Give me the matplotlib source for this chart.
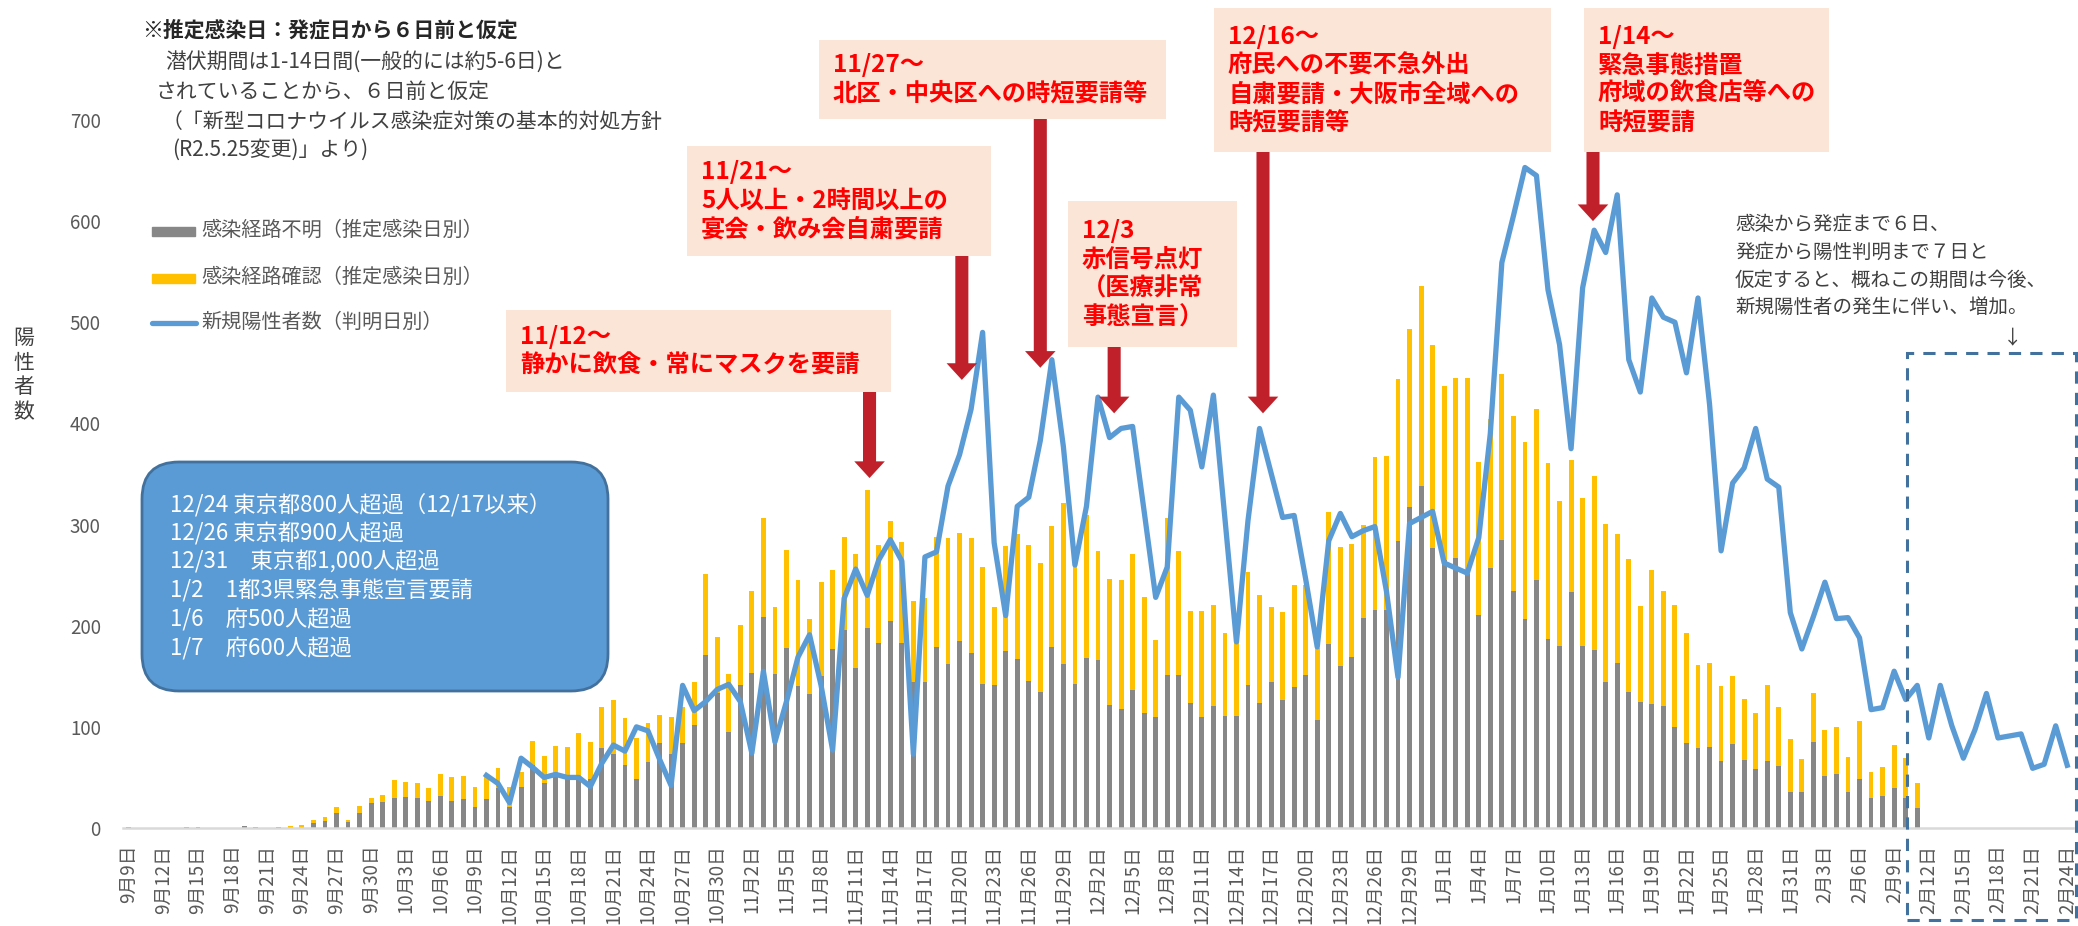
import numpy as np
import pandas as pd
import matplotlib
matplotlib.use("Agg")
import matplotlib.pyplot as plt
import matplotlib.patches as mpatches
from matplotlib.transforms import IdentityTransform

plt.rcParams['font.family'] = ['Noto Sans CJK JP', 'DejaVu Sans']

# days from 2020/9/9 to 2021/2/24
dates = pd.date_range("2020-09-09", "2021-02-24")
tick_labels = ["{0}月{1}日".format(d.month, d.day) for d in dates]

# 感染経路不明 (estimated infection date), 9/9 .. 2/11
unknown = [1, 0, 0, 0, 0, 1, 1, 0, 0, 0, 2, 1, 0, 1, 0, 0, 5, 7, 15, 6,
           15, 25, 26, 30, 31, 30, 27, 32, 27, 29, 21, 29, 40, 21, 41, 62, 44, 53, 48, 50,
           48, 79, 73, 62, 48, 65, 84, 73, 84, 102, 171, 133, 95, 141, 153, 209, 152, 178, 140, 132,
           150, 177, 196, 158, 198, 183, 205, 183, 144, 144, 179, 162, 185, 173, 142, 141, 175, 167, 145, 134,
           179, 162, 142, 168, 166, 122, 118, 136, 114, 110, 151, 151, 124, 110, 121, 111, 111, 141, 124, 144,
           127, 139, 151, 107, 182, 160, 169, 208, 216, 216, 284, 317, 338, 277, 265, 267, 251, 211, 257, 285,
           234, 207, 245, 187, 180, 233, 180, 176, 144, 163, 134, 125, 123, 121, 100, 84, 79, 80, 66, 83,
           67, 58, 66, 61, 36, 36, 85, 51, 53, 36, 48, 30, 32, 40, 30, 20]

# 感染経路確認 (estimated infection date)
confirmed = [0, 0, 0, 0, 0, 0, 0, 0, 0, 0, 0, 0, 0, 0, 2, 3, 3, 4, 6, 2,
             7, 5, 7, 17, 14, 14, 13, 21, 23, 22, 20, 21, 19, 20, 14, 24, 27, 28, 32, 44,
             37, 41, 54, 47, 41, 39, 28, 37, 36, 42, 80, 56, 57, 60, 81, 97, 66, 97, 105, 75,
             93, 78, 92, 113, 136, 97, 99, 100, 80, 83, 109, 125, 107, 114, 116, 77, 104, 124, 135, 128,
             120, 159, 128, 141, 108, 124, 127, 135, 114, 76, 155, 123, 91, 105, 99, 82, 75, 112, 106, 74,
             87, 101, 89, 71, 130, 118, 112, 92, 151, 152, 160, 176, 198, 201, 172, 178, 194, 151, 147, 164,
             173, 175, 169, 174, 143, 131, 146, 172, 157, 128, 132, 94, 132, 113, 120, 109, 82, 83, 74, 67,
             61, 56, 75, 59, 52, 32, 48, 46, 47, 34, 58, 25, 28, 42, 39, 24]

# 新規陽性者数 (reported date), 10/10 .. 2/24
line_start = 31
new_cases = [52, 44, 25, 69, 60, 50, 53, 50, 50, 41, 64, 82, 76, 100, 96, 68, 42, 141, 116, 125,
             137, 142, 125, 74, 155, 85, 125, 169, 191, 141, 77, 227, 256, 230, 265, 285, 264, 73, 268, 273,
             338, 369, 414, 490, 282, 210, 318, 327, 383, 463, 377, 260, 318, 426, 386, 395, 397, 313, 228, 258,
             426, 413, 357, 428, 306, 184, 304, 395, 351, 307, 309, 246, 179, 284, 311, 288, 294, 298, 234, 149,
             301, 307, 313, 262, 257, 252, 287, 390, 559, 605, 653, 645, 532, 478, 375, 534, 591, 569, 626, 463,
             431, 524, 505, 500, 450, 524, 419, 274, 341, 356, 395, 345, 337, 213, 177, 209, 243, 207, 208, 188,
             117, 119, 155, 127, 141, 89, 141, 101, 69, 97, 133, 89, 91, 93, 59, 63, 101, 62]

W, H = 2078, 926
fig = plt.figure(figsize=(W / 100, H / 100), dpi=100)
ax = fig.add_axes([123 / W, 98 / H, 1950 / W, 828 / H])

x = np.arange(len(dates))
xb = x[:len(unknown)]
ax.bar(xb, unknown, width=0.42, color='#878787', zorder=2)
ax.bar(xb, confirmed, bottom=unknown, width=0.42, color='#FFC000', zorder=2)
ax.plot(x[line_start:line_start + len(new_cases)], new_cases, color='#5B9BD5', lw=3.8, zorder=3)

ax.set_xlim(-0.5, len(dates) - 0.5)
ax.set_ylim(0, 818.6)
ax.set_yticks(range(0, 701, 100))
ax.set_xticks(x[::3])
ax.set_xticklabels(tick_labels[::3], rotation=90, fontsize=13.5, color='#595959')
ax.tick_params(axis='x', length=0, pad=12)
ax.tick_params(axis='y', length=0, pad=16, labelsize=13.5, labelcolor='#595959')
for s in ['top', 'right', 'left']:
    ax.spines[s].set_visible(False)
ax.spines['bottom'].set_color('#D9D9D9')
ax.spines['bottom'].set_linewidth(1.8)
ax.patch.set_alpha(0)

fig.text(24 / W, 1 - 375 / H, "陽\n性\n者\n数", fontsize=15, color='#404040',
         ha='center', va='center', linespacing=1.15)


def fx(px):
    return px / W


def fy(py):
    return 1 - py / H


# note at top left
note = [("※推定感染日：発症日から６日前と仮定", 142, 30, 'bold', '#262626'),
        ("潜伏期間は1-14日間(一般的には約5-6日)と", 165, 62, 'normal', '#404040'),
        ("されていることから、６日前と仮定", 156, 92, 'normal', '#404040'),
        ("（「新型コロナウイルス感染症対策の基本的対処方針", 162, 122, 'normal', '#404040'),
        ("(R2.5.25変更)」より)", 172, 150, 'normal', '#404040')]
for s, px, py, wt, c in note:
    fig.text(fx(px), fy(py), s, fontsize=15, fontweight=wt, color=c, va='center', ha='left')

# legend
fig.add_artist(mpatches.Rectangle((fx(152), fy(236)), 43 / W, 9 / H, transform=fig.transFigure,
                                  color='#878787'))
fig.add_artist(mpatches.Rectangle((fx(152), fy(283)), 43 / W, 9 / H, transform=fig.transFigure,
                                  color='#FFC000'))
fig.add_artist(plt.Line2D([fx(152), fx(196)], [fy(323), fy(323)], transform=fig.transFigure,
                          color='#5B9BD5', lw=3.8, solid_capstyle='round'))
for s, py in [("感染経路不明（推定感染日別）", 230), ("感染経路確認（推定感染日別）", 277),
              ("新規陽性者数（判明日別）", 322)]:
    fig.text(fx(201), fy(py), s, fontsize=14.5, color='#595959', va='center')

# blue box with events
box = mpatches.FancyBboxPatch((142, H - 691), 466, 229, boxstyle='round,pad=0,rounding_size=37',
                              transform=IdentityTransform(), fc='#5B9BD5', ec='#41719C', lw=2)
fig.add_artist(box)
events = ["12/24 東京都800人超過（12/17以来）", "12/26 東京都900人超過", "12/31　東京都1,000人超過",
          "1/2　1都3県緊急事態宣言要請", "1/6　府500人超過", "1/7　府600人超過"]
for k, s in enumerate(events):
    fig.text(fx(170), fy(505 + 28.6 * k), s, fontsize=16, color='white', va='center')

# measure annotations: (text, box x0, x1, y0, y1, arrow x, arrow tip value)
measures = [("11/12～\n静かに飲食・常にマスクを要請", 506, 891, 310, 392, 64.2, 346),
            ("11/21～\n5人以上・2時間以上の\n宴会・飲み会自粛要請", 687, 991, 146, 256, 72.2, 443),
            ("11/27～\n北区・中央区への時短要請等", 819, 1166, 40, 119, 79.0, 455),
            ("12/3\n赤信号点灯\n（医療非常\n事態宣言）", 1068, 1237, 201, 347, 85.4, 410),
            ("12/16～\n府民への不要不急外出\n自粛要請・大阪市全域への\n時短要請等", 1214, 1551, 8, 152, 98.3, 410),
            ("1/14～\n緊急事態措置\n府域の飲食店等への\n時短要請", 1584, 1829, 8, 152, 126.9, 600)]
for s, x0, x1, y0, y1, ax_x, tip in measures:
    fig.add_artist(mpatches.Rectangle((fx(x0), fy(y1)), (x1 - x0) / W, (y1 - y0) / H,
                                      transform=fig.transFigure, fc='#FBE5D6', ec='none', zorder=1))
    fig.text(fx(x0 + 14), fy((y0 + y1) / 2), s, fontsize=17.5, fontweight='bold', color='#FF0000',
             va='center', ha='left', linespacing=1.25, zorder=2)
    top = (828 - y1) / 1.0114
    ax.annotate("", xy=(ax_x, tip), xytext=(ax_x, top), annotation_clip=False,
                arrowprops=dict(arrowstyle='simple,head_width=1.1,head_length=0.6,tail_width=0.47',
                                mutation_scale=20, fc='#C0202A', ec='none', shrinkA=0, shrinkB=0),
                zorder=4)

# note at right and dashed period box
right_note = ["感染から発症まで６日、", "発症から陽性判明まで７日と", "仮定すると、概ねこの期間は今後、",
              "新規陽性者の発生に伴い、増加。"]
for k, s in enumerate(right_note):
    fig.text(fx(1735), fy(225 + 27.5 * k), s, fontsize=14, color='#404040', va='center')
fig.text(fx(2013), fy(338), "↓", fontsize=14, color='#404040', va='center', ha='center')
ax.add_patch(mpatches.Rectangle((154.1, -91), 14.7, 561, fill=False, ec='#41719C', lw=2.2,
                                ls=(0, (4, 3)), clip_on=False, zorder=5))

fig.savefig("out.png", dpi=100)
